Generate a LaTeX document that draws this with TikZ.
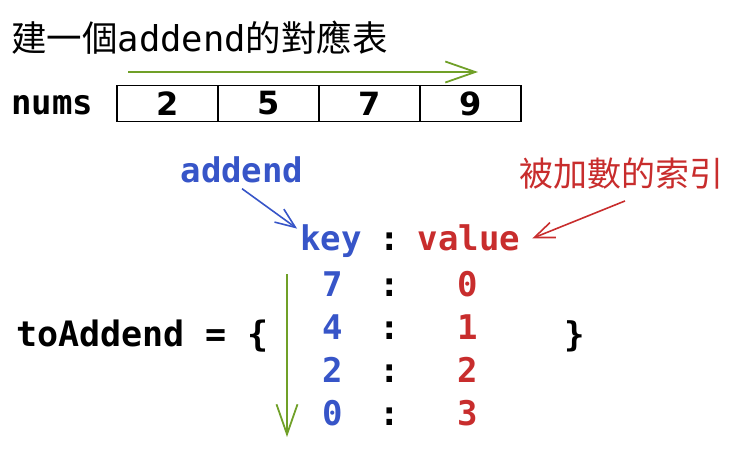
\documentclass[tikz,border=0pt]{standalone}
\usepackage{fontspec}
\setmonofont{DejaVu Sans Mono}
\setsansfont{DejaVu Sans}
\newfontfamily\cjk{Noto Sans CJK TC}
\usetikzlibrary{arrows.meta}
\definecolor{scangreen}{RGB}{112,160,40}
\definecolor{keyblue}{RGB}{55,85,200}
\definecolor{valred}{RGB}{200,45,45}
\begin{document}
\begin{tikzpicture}[x=1pt,y=-1pt,
  mono/.style={inner sep=0pt, font=\fontsize{34}{34}\selectfont\ttfamily\bfseries},
  cjklabel/.style={inner sep=0pt, font=\fontsize{34}{34}\selectfont\cjk},
  cell/.style={draw, line width=1.4pt, minimum width=101pt, minimum height=36pt, inner sep=0pt,
    font=\fontsize{32}{32}\selectfont\sffamily\bfseries},
  scan/.style={scangreen, line width=1.8pt, -{Straight Barb[length=30pt,width=21pt,line width=1.8pt]}},
  hint/.style={line width=1.6pt, -{Straight Barb[length=20pt,width=16pt,line width=1.6pt]}}]
\useasboundingbox (0,0) rectangle (744,448);
% title
\node[anchor=base west, inner sep=0pt, font=\fontsize{35.5}{35.5}\selectfont] (title) at (11,51)
  {\cjk 建一個\ttfamily addend\cjk 的對應表};
% array
\node[mono, anchor=base west] (nums) at (11,114) {nums};
\foreach \n [count=\i] in {2,5,7,9} {
  \node[cell] (cell\i) at ({117+101*(\i-0.5)},103.5) {\n};
}
\coordinate (scanL) at (128,72);
\coordinate (scanR) at (478,72);
\draw[scan] (scanL) -- (scanR);
% labels
\node[mono, keyblue, anchor=base] (addend) at (242,182) {addend};
\node[cjklabel, valred, anchor=base] (idxlabel) at (621,186) {被加數的索引};
\node[mono, keyblue, anchor=base] (key) at (331,250) {key};
\node[mono, anchor=base] (hcolon) at (390,250) {:};
\node[mono, valred, anchor=base] (value) at (469,250) {value};
\draw[hint, keyblue] ([yshift=-6pt]addend.south) -- ([xshift=-3pt,yshift=12pt]key.west);
\draw[hint, valred] ([xshift=4pt,yshift=-12pt]idxlabel.south) -- ([xshift=12pt,yshift=-1pt]value.east);
% dictionary
\node[mono, anchor=base west, font=\fontsize{35}{35}\selectfont\ttfamily\bfseries] (dict) at (16,346) {toAddend = \{};
\node[mono, anchor=base] (rbrace) at (575,346) {\}};
\foreach \k/\v [count=\i] in {7/0,4/1,2/2,0/3} {
  \node[mono, keyblue, anchor=base] (k\i) at (333,{296+43.3*(\i-1)}) {\k};
  \node[mono, anchor=base] (c\i) at (390,{296+43.3*(\i-1)}) {:};
  \node[mono, valred, anchor=base] (v\i) at (468,{296+43.3*(\i-1)}) {\v};
}
\coordinate (scanT) at (287,274);
\coordinate (scanB) at (287,437);
\draw[scan] (scanT) -- (scanB);
\end{tikzpicture}
\end{document}
